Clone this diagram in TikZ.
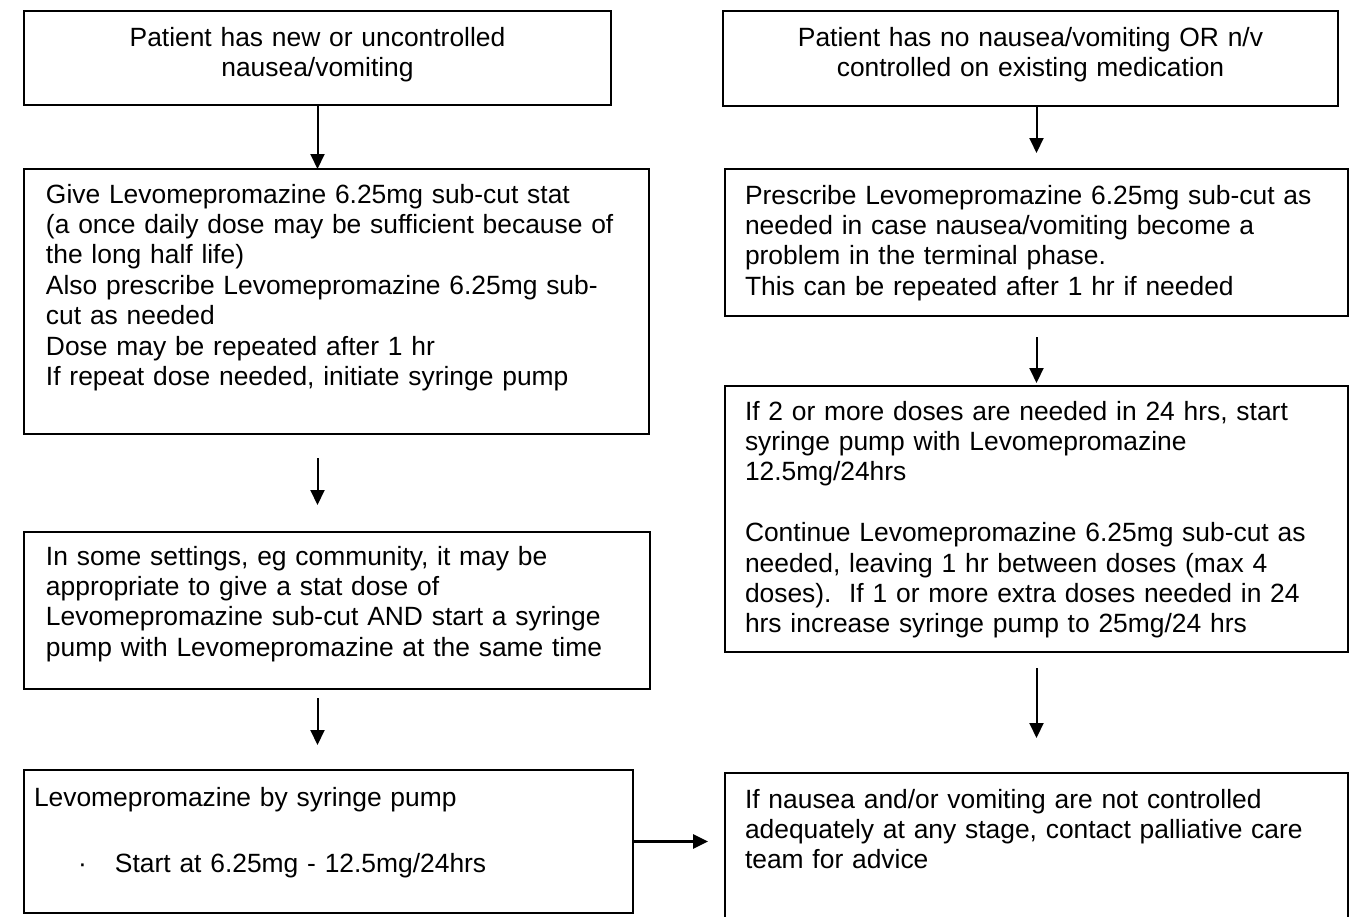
\documentclass[tikz,border=0pt]{standalone}
\usepackage{fontspec}
\setmainfont{Liberation Sans}
\usepackage{tikz}
\usetikzlibrary{arrows.meta, positioning}

\begin{document}
\begin{tikzpicture}[x=0.5pt, y=-0.5pt, node distance=32pt,
	every node/.style={draw, line width=0.9pt, anchor=north west, inner ysep=0pt, outer sep=0pt, align=left, font=\fontsize{13.2pt}{15.2pt}\selectfont},
	>={Triangle[length=7.5pt, width=7pt]}]
	\useasboundingbox (0,0) rectangle (1349,916);

	\node (l1) at (24,11) [align=center, inner xsep=0pt, text width=293.5pt, text height=17.5pt, text depth=29.5pt] {Patient has new or uncontrolled\\nausea/vomiting};
	\node (l2) [below=32pt of l1.south west, anchor=north west, inner xsep=11pt, text width=290.5pt, text height=17pt, text depth=115.5pt] {Give Levomepromazine 6.25mg sub-cut stat\\(a once daily dose may be sufficient because of\\the long half life)\\Also prescribe Levomepromazine 6.25mg sub-\\cut as needed\\Dose may be repeated after 1 hr\\If repeat dose needed, initiate syringe pump};
	\node (l3) [below=49pt of l2.south west, anchor=north west, inner xsep=11pt, text width=291pt, text height=16.5pt, text depth=62pt] {In some settings, eg community, it may be\\appropriate to give a stat dose of\\Levomepromazine sub-cut AND start a syringe\\pump with Levomepromazine at the same time};
	\node (l4) [below=40.5pt of l3.south west, anchor=north west, inner xsep=5pt, text width=294.5pt, text height=18pt, text depth=53.5pt] {Levomepromazine by syringe pump\\[18pt]\hspace*{22pt}\makebox[18.5pt][l]{·}Start at 6.25mg - 12.5mg/24hrs};

	\node (r1) at (723,11) [align=center, inner xsep=0pt, text width=307.5pt, text height=17.5pt, text depth=30pt] {Patient has no nausea/vomiting OR n/v\\controlled on existing medication};
	\node (r2) [below=31.5pt of r1.south west, anchor=north west, xshift=1pt, inner xsep=10pt, text width=291.5pt, text height=17.5pt, text depth=56pt] {Prescribe Levomepromazine 6.25mg sub-cut as\\needed in case nausea/vomiting become a\\problem in the terminal phase.\\This can be repeated after 1 hr if needed};
	\node (r3) [below=35pt of r2.south west, anchor=north west, inner xsep=10pt, text width=291.5pt, text height=17pt, text depth=116pt] {If 2 or more doses are needed in 24 hrs, start\\syringe pump with Levomepromazine\\12.5mg/24hrs\\[15.2pt]Continue Levomepromazine 6.25mg sub-cut as\\needed, leaving 1 hr between doses (max 4\\doses).\ \ If 1 or more extra doses needed in 24\\hrs increase syringe pump to 25mg/24 hrs};
	\node (r4) [below=60.5pt of r3.south west, anchor=north west, inner xsep=10pt, text width=291.5pt, text height=17.5pt, text depth=57.5pt] {If nausea and/or vomiting are not controlled\\adequately at any stage, contact palliative care\\team for advice};

	\draw[->, line width=1pt] (l1.south) -- (l1.south |- l2.north);
	\draw[->, line width=1pt, shorten <=12pt, shorten >=13.5pt] (l2.south -| l1.south) -- (l3.north -| l1.south);
	\draw[->, line width=1pt, shorten <=4.5pt, shorten >=12.5pt] (l3.south -| l1.south) -- (l4.north -| l1.south);
	\draw[->, line width=1pt, shorten >=8pt] (r1.south -| r2.north) -- (r2.north);
	\draw[->, line width=1pt, shorten <=10.5pt, shorten >=1.5pt] (r2.south) -- (r3.north);
	\draw[->, line width=1pt, shorten <=8pt, shorten >=17.5pt] (r3.south) -- (r4.north);
	\draw[->, line width=1.5pt, shorten >=8.5pt] (l4.east) -- (l4.east -| r4.west);
\end{tikzpicture}
\end{document}
